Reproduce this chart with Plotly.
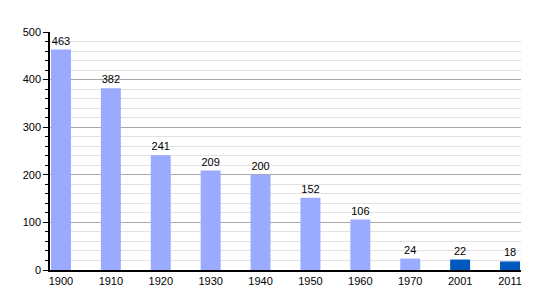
import plotly.graph_objects as go

years = ["1900", "1910", "1920", "1930", "1940", "1950", "1960", "1970", "2001", "2011"]
population = [463, 382, 241, 209, 200, 152, 106, 24, 22, 18]
bar_colors = ["#99AAFF"] * 8 + ["#0058BE"] * 2

fig = go.Figure(go.Bar(
    x=years, y=population,
    marker=dict(color=bar_colors, line=dict(width=0)),
    width=0.4,
    text=[str(v) for v in population],
    textposition="outside",
    textfont=dict(family="Liberation Sans, Arial, sans-serif", size=11, color="black"),
    cliponaxis=False,
))

fig.update_layout(
    width=550, height=300,
    margin=dict(l=50, r=29, t=32, b=30),
    plot_bgcolor="white", paper_bgcolor="white",
    font=dict(family="Liberation Sans, Arial, sans-serif", size=11, color="black"),
    showlegend=False,
    bargap=0.6,
)
fig.update_xaxes(
    type="category", range=[-0.22, 9.22],
    showline=True, linecolor="black", linewidth=1.5,
    ticks="", showgrid=False, tickfont=dict(size=11),
)
fig.update_yaxes(
    range=[0, 500], dtick=100, tick0=0,
    showline=True, linecolor="black", linewidth=1.5,
    ticks="outside", ticklen=5, tickcolor="black",
    showgrid=True, gridcolor="#AAAAAA", gridwidth=1,
    minor=dict(dtick=20, showgrid=True, gridcolor="#E2E2E2", ticks="outside", ticklen=3, tickcolor="black"),
    zeroline=False, tickfont=dict(size=11),
)

fig.write_html("out.html")
